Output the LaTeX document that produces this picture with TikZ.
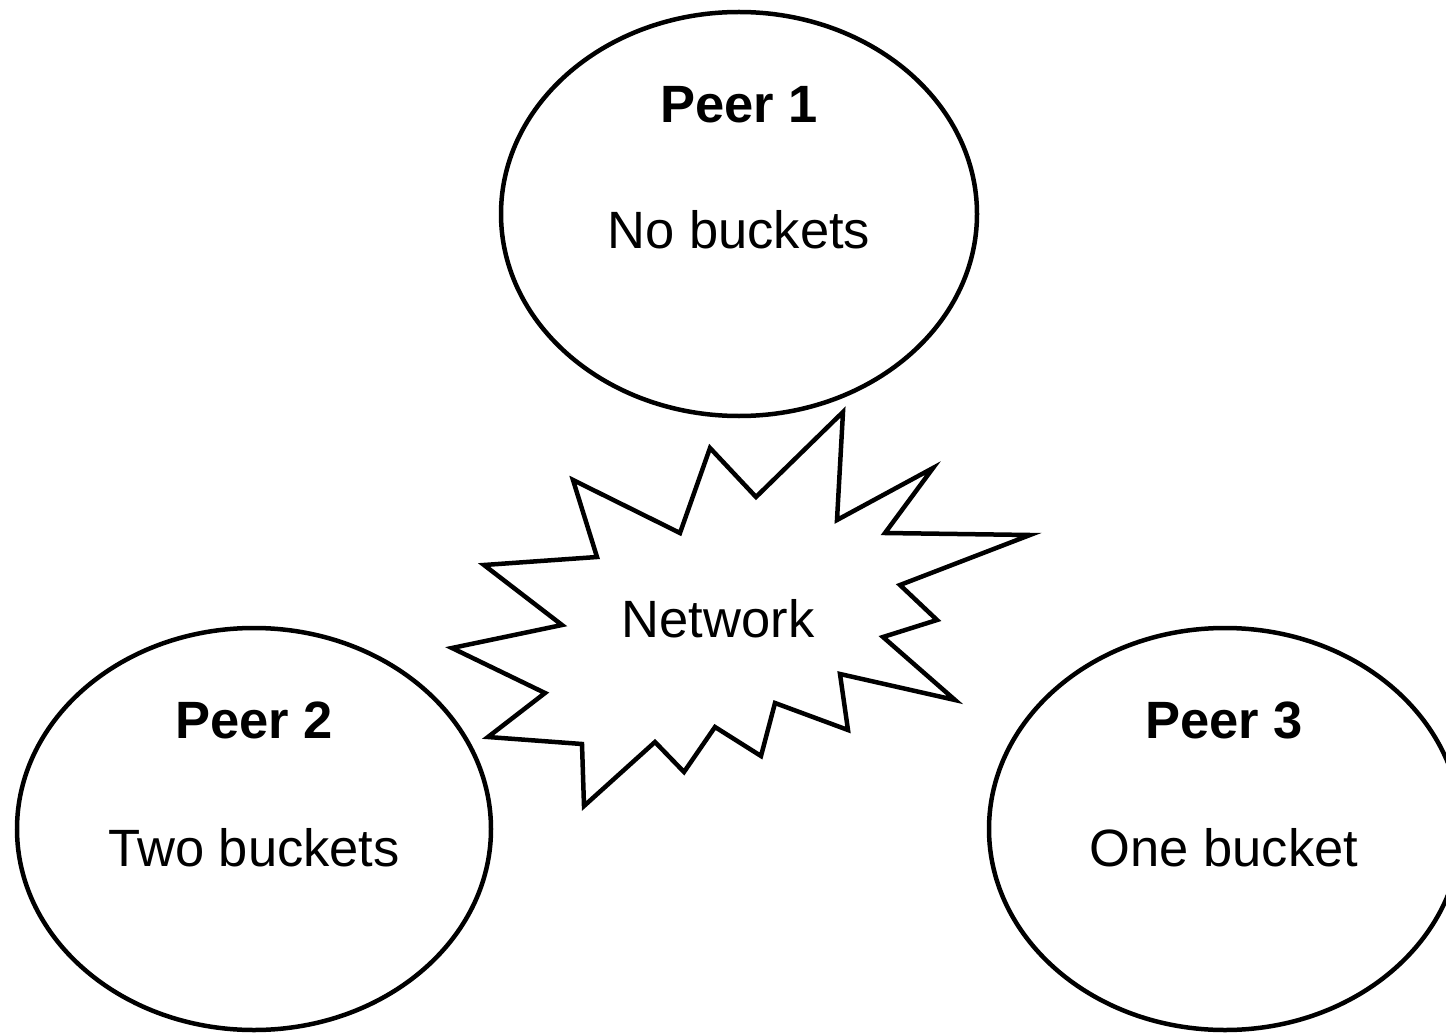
\documentclass[tikz,border=0pt]{standalone}
\usepackage{fontspec}
\setmainfont{Liberation Sans}
\begin{document}
\begin{tikzpicture}[x=1pt,y=-1pt,
  peer/.style={draw=black,line width=4.5pt},
  burst/.style={draw=black,line width=4.5pt,line join=miter,fill=white},
  lbl/.style={anchor=base,inner sep=0pt,font=\fontsize{52.5}{62}\selectfont},
  title/.style={lbl,font=\fontsize{52.5}{62}\selectfont\bfseries}]
\useasboundingbox (0,0) rectangle (1446,1035);
\clip (0,0) rectangle (1446,1035);

% peers
\draw[peer] (739,214) ellipse [x radius=238, y radius=202];
\draw[peer] (254,829) ellipse [x radius=237, y radius=201];
\draw[peer] (1225,829) ellipse [x radius=236, y radius=201];

% network burst
\draw[burst] (843,412) -- (837,520) -- (933,468) -- (885,533) -- (1030,535)
  -- (900,585) -- (937,620) -- (883,637) -- (955,700) -- (840,674)
  -- (848,730) -- (775,703) -- (761,756) -- (715,727) -- (684,772)
  -- (655,742) -- (584,806) -- (582,744) -- (488,737) -- (545,693)
  -- (452,648) -- (562,625) -- (484,565) -- (597,557) -- (573,480)
  -- (680,533) -- (710,448) -- (756,497) -- cycle;

\node[title] (p1) at (739,123) {Peer 1};
\node[lbl]   (b1) at (739,248) {No buckets};
\node[title] (p2) at (254,738) {Peer 2};
\node[lbl]   (b2) at (254,866) {Two buckets};
\node[title] (p3) at (1224,738) {Peer 3};
\node[lbl]   (b3) at (1224,866) {One bucket};
\node[lbl]   (net) at (718,637) {Network};
\end{tikzpicture}
\end{document}
